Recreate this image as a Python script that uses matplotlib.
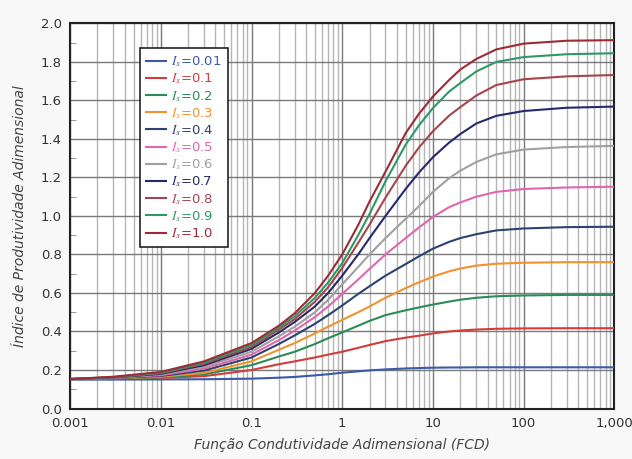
import matplotlib
matplotlib.use("Agg")
import matplotlib.pyplot as plt
from matplotlib.ticker import FixedLocator, MultipleLocator, NullFormatter

# FCD (eixo x) e curvas de índice de produtividade por I_x
fcd = [0.001, 0.003, 0.01, 0.03, 0.1, 0.2, 0.3, 0.5, 0.7, 1, 1.5, 2, 3, 5, 7,
       10, 15, 20, 30, 50, 100, 300, 1000]

ix_labels = ['0.01', '0.1', '0.2', '0.3', '0.4', '0.5', '0.6', '0.7', '0.8', '0.9', '1.0']

j_001 = [.150, .150, .151, .152, .155, .160, .164, .172, .178, .186, .193, .198, .203, .208, .210,
         .212, .213, .213, .214, .214, .214, .214, .214]
j_01 = [.153, .155, .159, .168, .200, .230, .245, .265, .280, .295, .315, .330, .350, .368, .378,
        .390, .400, .405, .410, .414, .416, .417, .417]
j_02 = [.153, .156, .162, .177, .225, .270, .295, .335, .365, .395, .430, .455, .485, .510, .525,
        .540, .555, .565, .575, .583, .587, .590, .590]
j_03 = [.153, .157, .165, .185, .245, .305, .340, .390, .425, .460, .500, .530, .575, .625, .655,
        .685, .712, .727, .742, .752, .757, .760, .760]
j_04 = [.153, .158, .169, .197, .265, .335, .380, .440, .485, .535, .595, .635, .690, .750, .790,
        .830, .865, .885, .905, .925, .935, .942, .944]
j_05 = [.153, .159, .173, .207, .280, .355, .405, .475, .530, .595, .670, .725, .800, .885, .940,
        .995, 1.045, 1.07, 1.10, 1.125, 1.14, 1.148, 1.152]
j_06 = [.153, .160, .177, .217, .295, .375, .425, .500, .565, .645, .735, .800, .885, .985, 1.05,
        1.125, 1.195, 1.235, 1.28, 1.32, 1.345, 1.358, 1.364]
j_07 = [.153, .161, .180, .225, .310, .395, .450, .530, .600, .690, .800, .885, 1.00, 1.14, 1.225,
        1.305, 1.38, 1.425, 1.48, 1.52, 1.545, 1.562, 1.568]
j_08 = [.153, .162, .183, .232, .320, .410, .465, .555, .630, .730, .860, .955, 1.095, 1.26, 1.355,
        1.44, 1.52, 1.565, 1.625, 1.68, 1.71, 1.725, 1.732]
j_09 = [.153, .163, .186, .238, .330, .420, .480, .575, .655, .755, .900, 1.01, 1.18, 1.37, 1.47,
        1.56, 1.645, 1.69, 1.75, 1.80, 1.825, 1.84, 1.845]
j_10 = [.153, .165, .190, .245, .340, .430, .495, .600, .690, .800, .953, 1.075, 1.23, 1.43, 1.53,
        1.62, 1.705, 1.76, 1.815, 1.865, 1.895, 1.91, 1.913]

series = [j_001, j_01, j_02, j_03, j_04, j_05, j_06, j_07, j_08, j_09, j_10]
colors = ['#3b5aa6', '#d23c3c', '#2b8c5a', '#f0922e', '#2c4270', '#e066b0',
          '#a0a0a0', '#262a6a', '#a5454c', '#2f9868', '#9c2b36']

plt.rcParams['mathtext.fontset'] = 'stix'

fig = plt.figure(figsize=(6.32, 4.59), dpi=100)
fig.patch.set_facecolor('#f8f8f8')
ax = fig.add_axes([0.111, 0.110, 0.861, 0.839])
ax.set_facecolor('white')

for y, c, lab in zip(series, colors, ix_labels):
    ax.plot(fcd, y, color=c, lw=1.5, label=r'$I_x$=' + lab, zorder=3)

ax.set_xscale('log')
ax.set_xlim(0.001, 1000)
ax.set_ylim(0, 2.0)

ax.xaxis.set_major_locator(FixedLocator([0.001, 0.01, 0.1, 1, 10, 100, 1000]))
ax.set_xticklabels(['0.001', '0.01', '0.1', '1', '10', '100', '1,000'])
ax.xaxis.set_minor_formatter(NullFormatter())
ax.yaxis.set_major_locator(MultipleLocator(0.2))
ax.yaxis.set_minor_locator(MultipleLocator(0.1))
ax.set_yticklabels(['%.1f' % v for v in ax.get_yticks()])

ax.grid(which='major', axis='both', color='#7a7a7a', lw=1.0, zorder=1)
ax.grid(which='minor', axis='x', color='#b5b5b5', lw=1.0, zorder=1)

ax.tick_params(axis='both', which='major', length=0, pad=6, labelsize=9.5, labelcolor='#333333')
ax.tick_params(axis='x', which='minor', length=0)
ax.tick_params(axis='y', which='minor', direction='in', length=4, color='#888888')

for s in ax.spines.values():
    s.set_color('#222222')
    s.set_linewidth(1.5)

ax.set_xlabel('Função Condutividade Adimensional (FCD)', fontsize=10, style='italic',
              color='#444444', labelpad=6)
ax.set_ylabel('Índice de Produtividade Adimensional', fontsize=10, style='italic',
              color='#444444', labelpad=10)

leg = ax.legend(loc='upper left', bbox_to_anchor=(0.129, 0.935), borderaxespad=0,
                fancybox=False, edgecolor='#222222', framealpha=1, fontsize=9.5,
                handlelength=1.5, labelspacing=0.18, handletextpad=0.4, borderpad=0.45)
leg.get_frame().set_linewidth(1.2)
for txt, c in zip(leg.get_texts(), colors):
    txt.set_color(c)

fig.savefig('out.png', dpi=100, facecolor=fig.get_facecolor())
